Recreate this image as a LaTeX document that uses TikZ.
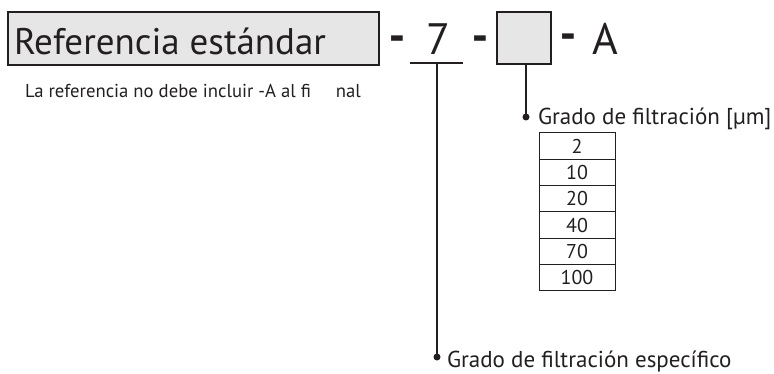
\documentclass[tikz,border=0pt]{standalone}
\usepackage{fontspec}
\setmainfont{PT Sans}
\newfontfamily\dashfont{DejaVu Sans}
\definecolor{ink}{HTML}{231F20}
\definecolor{boxfill}{HTML}{E6E6E6}
\begin{document}
\begin{tikzpicture}[x=1pt,y=-1pt,
  every node/.style={inner sep=0pt,outer sep=0pt,text=ink},
  graybox/.style={draw=ink,line width=1.8pt,fill=boxfill},
  conn/.style={draw=ink,line width=1.8pt},
  dotmark/.style={circle,fill=ink,minimum size=7pt},
  big/.style={font=\fontsize{44}{46}\selectfont},
  dashtxt/.style={font=\dashfont\bfseries\fontsize{38}{40}\selectfont,anchor=base},
  lbl/.style={font=\fontsize{23}{25}\selectfont,anchor=base west},
  cell/.style={draw=ink,line width=1pt,minimum width=76pt,minimum height=26.3pt,font=\fontsize{20}{22}\selectfont}
]
\useasboundingbox (0,0) rectangle (774,374);
% main box
\draw[graybox] (8,12) rectangle (379,65);
\node[font=\fontsize{37}{40}\selectfont,anchor=base west] (ref) at (14,55) {Referencia estándar};
\node[font=\fontsize{18.7}{20}\selectfont,anchor=base west] (note) at (25,98) {La referencia no debe incluir -A al fi\hspace{25pt}nal};
% dashes and 7
\node[dashtxt] (d1) at (397,50) {-};
\node[big,anchor=base] (seven) at (438,55) {7};
\node[dashtxt] (d2) at (480,50) {-};
\draw[graybox] (497,12) rectangle (551,64);
\coordinate (sbox) at (526,64);
\node[dashtxt] (d3) at (568,48) {-};
\node[big,anchor=base] (A) at (605,55) {A};
% underline of 7
\coordinate (ul1) at (410,63);
\coordinate (ul2) at (463,63);
\draw[conn] (ul1) -- (ul2);
\coordinate (ulm) at (437,63);
% connectors
\node[dotmark] (dot1) at (526,117) {};
\node[dotmark] (dot2) at (437,357) {};
\draw[conn] (sbox) -- (dot1.center);
\draw[conn] (ulm) -- (dot2.center);
\node[lbl] (g1) at (538,125) {Grado de filtración [µm]};
\node[lbl] (g2) at (447,367) {Grado de filtración específico};
% table
\node[cell,anchor=north west] (r1) at (539,133) {2};
\node[cell,anchor=north] (r2) at (r1.south) {10};
\node[cell,anchor=north] (r3) at (r2.south) {20};
\node[cell,anchor=north] (r4) at (r3.south) {40};
\node[cell,anchor=north] (r5) at (r4.south) {70};
\node[cell,anchor=north] (r6) at (r5.south) {100};
\end{tikzpicture}
\end{document}
